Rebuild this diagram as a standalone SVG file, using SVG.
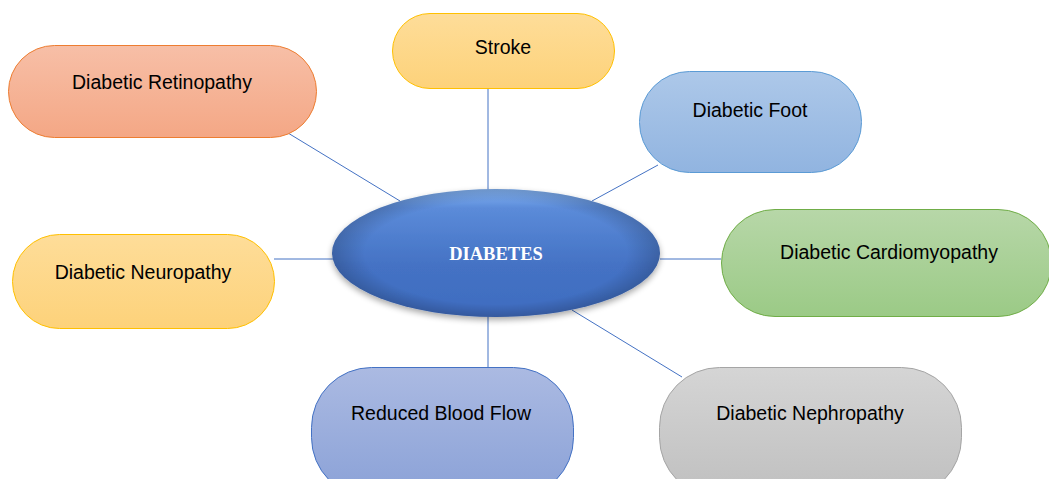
<svg xmlns="http://www.w3.org/2000/svg" width="1049" height="479" viewBox="0 0 1049 479">
<defs>
<linearGradient id="gOrange" x1="0" y1="0" x2="0" y2="1"><stop offset="0" stop-color="#f7bfa7"/><stop offset="1" stop-color="#f4a785"/></linearGradient>
<linearGradient id="gYellow" x1="0" y1="0" x2="0" y2="1"><stop offset="0" stop-color="#fedd99"/><stop offset="1" stop-color="#fdd27a"/></linearGradient>
<linearGradient id="gBlue" x1="0" y1="0" x2="0" y2="1"><stop offset="0" stop-color="#adc8e9"/><stop offset="1" stop-color="#91b4e0"/></linearGradient>
<linearGradient id="gGreen" x1="0" y1="0" x2="0" y2="1"><stop offset="0" stop-color="#b7d7a8"/><stop offset="1" stop-color="#9bca86"/></linearGradient>
<linearGradient id="gIndigo" x1="0" y1="0" x2="0" y2="1"><stop offset="0" stop-color="#abbae2"/><stop offset="1" stop-color="#8aa1d7"/></linearGradient>
<linearGradient id="gGray" x1="0" y1="0" x2="0" y2="1"><stop offset="0" stop-color="#d5d5d5"/><stop offset="1" stop-color="#bfbfbf"/></linearGradient>
<linearGradient id="gCore" x1="0" y1="0" x2="0" y2="1"><stop offset="0" stop-color="#86b6f6"/><stop offset="0.15" stop-color="#5b8bd9"/><stop offset="0.6" stop-color="#4472c4"/><stop offset="1" stop-color="#3f6cc0"/></linearGradient>
<radialGradient id="gShade" cx="0.5" cy="0.5" r="0.5"><stop offset="0.8" stop-color="#000" stop-opacity="0"/><stop offset="1" stop-color="#000" stop-opacity="0.18"/></radialGradient>
<filter id="shadow" x="-10%" y="-20%" width="120%" height="150%"><feGaussianBlur in="SourceAlpha" stdDeviation="3"/><feOffset dx="0" dy="3"/><feComponentTransfer><feFuncA type="linear" slope="0.35"/></feComponentTransfer><feMerge><feMergeNode/><feMergeNode in="SourceGraphic"/></feMerge></filter>
</defs>
<style>
.lbl{font-family:"Liberation Sans",Arial,sans-serif;font-size:19.5px;fill:#000;text-anchor:middle}
.core{font-family:"Liberation Serif","Times New Roman",serif;font-size:18.5px;font-weight:bold;fill:#fff;text-anchor:middle}
.conn line{stroke:#4472c4;stroke-width:1}
</style>
<rect width="1049" height="479" fill="#fff"/>
<g id="connectors" class="conn">
<line x1="288" y1="133" x2="400" y2="201"/>
<line x1="488" y1="88" x2="488" y2="190"/>
<line x1="658" y1="165" x2="592" y2="201"/>
<line x1="660" y1="259" x2="721" y2="259"/>
<line x1="274" y1="259" x2="333" y2="259"/>
<line x1="488" y1="316" x2="488" y2="367"/>
<line x1="572" y1="310" x2="682" y2="377"/>
</g>
<g id="retinopathy"><rect x="8.5" y="45.5" width="308" height="92" rx="46" fill="url(#gOrange)" stroke="#ed7d31"/><text class="lbl" x="162" y="89">Diabetic Retinopathy</text></g>
<g id="stroke"><rect x="392.5" y="13.5" width="222" height="75" rx="37.5" fill="url(#gYellow)" stroke="#ffc000"/><text class="lbl" x="503" y="54">Stroke</text></g>
<g id="foot"><rect x="639.5" y="71.5" width="222" height="101" rx="50" fill="url(#gBlue)" stroke="#5b9bd5"/><text class="lbl" x="750" y="117">Diabetic Foot</text></g>
<g id="cardiomyopathy"><rect x="721.5" y="209.5" width="330" height="107" rx="53.5" fill="url(#gGreen)" stroke="#70ad47"/><text class="lbl" x="889" y="259">Diabetic Cardiomyopathy</text></g>
<g id="neuropathy"><rect x="12.5" y="234.5" width="262" height="94" rx="47" fill="url(#gYellow)" stroke="#ffc000"/><text class="lbl" x="143" y="279">Diabetic Neuropathy</text></g>
<g id="bloodflow"><rect x="311.5" y="367.5" width="262" height="130" rx="60" fill="url(#gIndigo)" stroke="#4472c4"/><text class="lbl" x="441" y="420">Reduced Blood Flow</text></g>
<g id="nephropathy"><rect x="659.5" y="367.5" width="302" height="130" rx="60" fill="url(#gGray)" stroke="#a5a5a5"/><text class="lbl" x="810" y="420">Diabetic Nephropathy</text></g>
<g id="diabetes">
<ellipse cx="496" cy="253" rx="164" ry="64" fill="url(#gCore)" filter="url(#shadow)"/>
<ellipse cx="496" cy="253" rx="164" ry="64" fill="url(#gShade)"/>
<text class="core" x="496" y="260">DIABETES</text>
</g>
</svg>
